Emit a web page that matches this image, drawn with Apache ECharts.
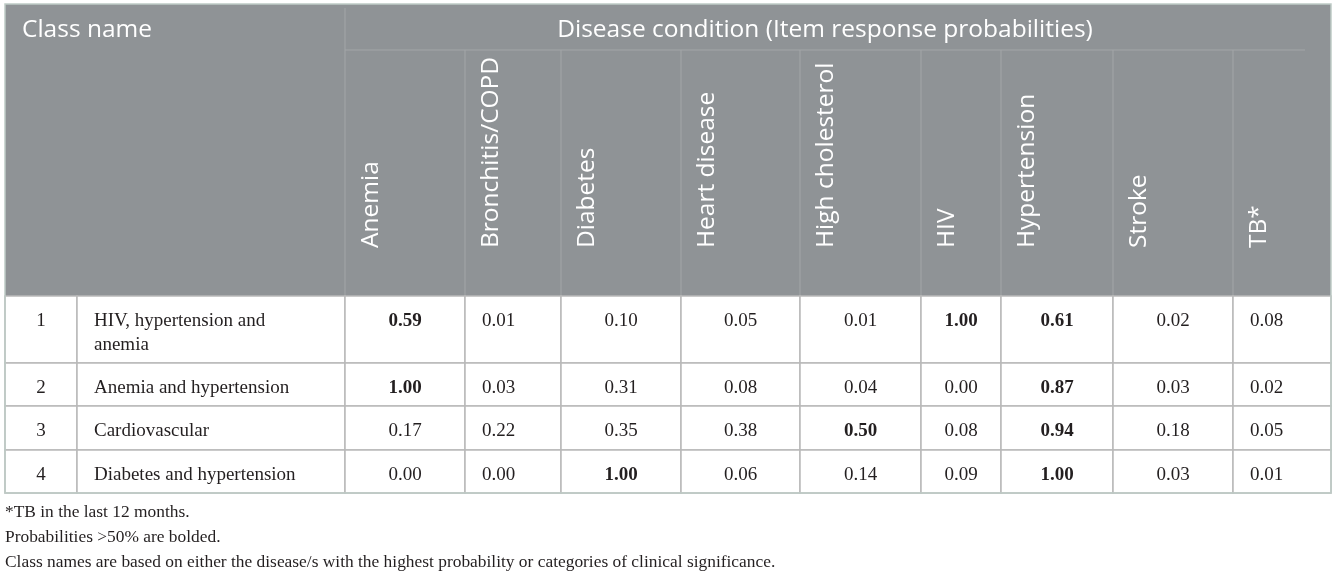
<!DOCTYPE html>
<html>
<head>
<meta charset="utf-8">
<script src="https://cdn.jsdelivr.net/npm/echarts@6/dist/echarts.min.js"></script>
<style>
html,body{margin:0;padding:0;background:#fff;}
#main{width:1337px;height:575px;}
</style>
</head>
<body>
<div id="main"></div>
<script>
// ---- Data ----
const diseases = ['Anemia','Bronchitis/COPD','Diabetes','Heart disease','High cholesterol','HIV','Hypertension','Stroke','TB*'];
const classNumbers = ['1','2','3','4'];
const classNames = ['HIV, hypertension and anemia','Anemia and hypertension','Cardiovascular','Diabetes and hypertension'];
const class1 = [0.59,0.01,0.10,0.05,0.01,1.00,0.61,0.02,0.08];
const class2 = [1.00,0.03,0.31,0.08,0.04,0.00,0.87,0.03,0.02];
const class3 = [0.17,0.22,0.35,0.38,0.50,0.08,0.94,0.18,0.05];
const class4 = [0.00,0.00,1.00,0.06,0.14,0.09,1.00,0.03,0.01];
const headerTitles = ['Class name','Disease condition (Item response probabilities)'];
const footnotes = [
  '*TB in the last 12 months.',
  'Probabilities >50% are bolded.',
  'Class names are based on either the disease/s with the highest probability or categories of clinical significance.'
];
const boldThreshold = 0.5;

// ---- Layout ----
const colEdges = [5, 77, 345, 465, 561, 681, 800, 921, 1001, 1113, 1233, 1331];
const rowEdges = [296, 363, 406, 450, 493];
const headTop = 4, subHeadY = 50, subHeadEnd = 1305;
const leftAlignedCols = [1, 8];
const HEAD_BG = '#8f9396', HEAD_LINE = '#a3a6a8', BODY_LINE = '#b9b9b9', OUTER = '#bfcbc6';
const SANS = '"Open Sans", sans-serif', SERIF = '"Liberation Serif", "Times New Roman", serif';
const TXT = '#231f20';
const HEAD_FS = 24.5, BODY_FS = 19, NOTE_FS = 17.4;

const classValues = [class1, class2, class3, class4];
const cellData = [];
classValues.forEach((arr, r) => arr.forEach((v, c) => cellData.push([c, r, v])));

const chart = echarts.init(document.getElementById('main'), null, {renderer: 'canvas'});

function P(api, x, y) { return api.coord([x, y]); }

const option = {
  animation: false,
  grid: {left: 0, right: 0, top: 0, bottom: 0},
  xAxis: {type: 'value', min: 0, max: 1337, show: false},
  yAxis: {type: 'value', min: 0, max: 575, inverse: true, show: false},
  series: [
    // header background + titles
    {
      type: 'custom', silent: true, z: 1,
      data: [[0]],
      renderItem: function (params, api) {
        const tl = P(api, colEdges[0], headTop), br = P(api, colEdges[colEdges.length - 1], rowEdges[0]);
        const children = [
          {type: 'rect', shape: {x: tl[0], y: tl[1], width: br[0] - tl[0], height: br[1] - tl[1]}, style: {fill: HEAD_BG}},
        ];
        const v0 = P(api, colEdges[2], headTop + 4), v1 = P(api, colEdges[2], rowEdges[0]);
        children.push({type: 'line', shape: {x1: v0[0], y1: v0[1], x2: v1[0], y2: v1[1]}, style: {stroke: HEAD_LINE, lineWidth: 1}});
        const h0 = P(api, colEdges[2], subHeadY), h1 = P(api, subHeadEnd, subHeadY);
        children.push({type: 'line', shape: {x1: h0[0], y1: h0[1], x2: h1[0], y2: h1[1]}, style: {stroke: HEAD_LINE, lineWidth: 1}});
        const t0 = P(api, 22, 30);
        children.push({type: 'text', style: {text: headerTitles[0], x: t0[0], y: t0[1], fill: '#fff', fontFamily: SANS, fontSize: HEAD_FS, align: 'left', verticalAlign: 'middle'}});
        const t1 = P(api, (colEdges[2] + subHeadEnd) / 2, 30);
        children.push({type: 'text', style: {text: headerTitles[1], x: t1[0], y: t1[1], fill: '#fff', fontFamily: SANS, fontSize: HEAD_FS, align: 'center', verticalAlign: 'middle'}});
        return {type: 'group', children: children};
      }
    },
    // disease header columns (rotated)
    {
      type: 'custom', silent: true, z: 2,
      data: diseases.map((d, i) => [i]),
      renderItem: function (params, api) {
        const i = api.value(0);
        const left = colEdges[i + 2];
        const children = [];
        if (i > 0) {
          const a = P(api, left, subHeadY), b = P(api, left, rowEdges[0]);
          children.push({type: 'line', shape: {x1: a[0], y1: a[1], x2: b[0], y2: b[1]}, style: {stroke: HEAD_LINE, lineWidth: 1}});
        }
        const p = P(api, left + 26, 248);
        children.push({type: 'text', x: p[0], y: p[1], rotation: Math.PI / 2,
          style: {text: diseases[i], x: 0, y: 0, fill: '#fff', fontFamily: SANS, fontSize: HEAD_FS, align: 'left', verticalAlign: 'middle'}});
        return {type: 'group', children: children};
      }
    },
    // class number + name cells
    {
      type: 'custom', silent: true, z: 3,
      data: classNames.map((n, r) => [r]),
      renderItem: function (params, api) {
        const r = api.value(0);
        const y0 = rowEdges[r], y1 = rowEdges[r + 1];
        const children = [];
        for (let k = 0; k < 2; k++) {
          const a = P(api, colEdges[k], y0), b = P(api, colEdges[k + 1], y1);
          children.push({type: 'rect', shape: {x: a[0], y: a[1], width: b[0] - a[0], height: b[1] - a[1]},
            style: {fill: '#fff', stroke: BODY_LINE, lineWidth: 1.5}});
        }
        const n = P(api, (colEdges[0] + colEdges[1]) / 2, y0 + 13);
        children.push({type: 'text', style: {text: classNumbers[r], x: n[0], y: n[1], fill: TXT, fontFamily: SERIF, fontSize: BODY_FS, lineHeight: 24, align: 'center', verticalAlign: 'top'}});
        const t = P(api, colEdges[1] + 17, y0 + 13);
        children.push({type: 'text', style: {text: classNames[r], x: t[0], y: t[1], fill: TXT, fontFamily: SERIF, fontSize: BODY_FS, lineHeight: 24, width: 216, overflow: 'break', align: 'left', verticalAlign: 'top'}});
        return {type: 'group', children: children};
      }
    },
    // value cells
    {
      type: 'custom', silent: true, z: 3,
      data: cellData,
      renderItem: function (params, api) {
        const c = api.value(0), r = api.value(1), v = api.value(2);
        const x0 = colEdges[c + 2], x1 = colEdges[c + 3], y0 = rowEdges[r], y1 = rowEdges[r + 1];
        const a = P(api, x0, y0), b = P(api, x1, y1);
        const leftA = leftAlignedCols.indexOf(c) >= 0;
        const tp = P(api, leftA ? x0 + 17 : (x0 + x1) / 2, y0 + 13);
        return {type: 'group', children: [
          {type: 'rect', shape: {x: a[0], y: a[1], width: b[0] - a[0], height: b[1] - a[1]},
            style: {fill: '#fff', stroke: BODY_LINE, lineWidth: 1.5}},
          {type: 'text', style: {text: v.toFixed(2), x: tp[0], y: tp[1], fill: TXT, fontFamily: SERIF, fontSize: BODY_FS,
            fontWeight: v >= boldThreshold ? 'bold' : 'normal', lineHeight: 24, align: leftA ? 'left' : 'center', verticalAlign: 'top'}}
        ]};
      }
    },
    // outer border + footnotes
    {
      type: 'custom', silent: true, z: 5,
      data: [[0]],
      renderItem: function (params, api) {
        const a = P(api, colEdges[0], headTop), b = P(api, colEdges[colEdges.length - 1], rowEdges[rowEdges.length - 1]);
        const children = [
          {type: 'rect', shape: {x: a[0], y: a[1], width: b[0] - a[0], height: b[1] - a[1]},
            style: {fill: 'none', stroke: OUTER, lineWidth: 1.5}}
        ];
        footnotes.forEach((f, i) => {
          const p = P(api, 5, 512 + i * 25);
          children.push({type: 'text', style: {text: f, x: p[0], y: p[1], fill: TXT, fontFamily: SERIF, fontSize: NOTE_FS, align: 'left', verticalAlign: 'middle'}});
        });
        return {type: 'group', children: children};
      }
    }
  ]
};
chart.setOption(option);
</script>
</body>
</html>
